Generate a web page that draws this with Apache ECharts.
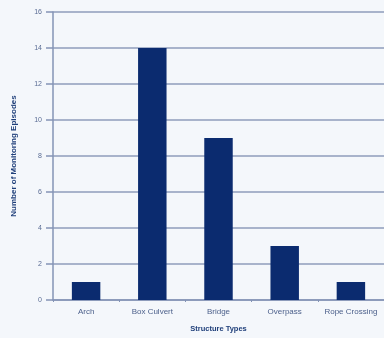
<!DOCTYPE html>
<html>
<head>
<meta charset="utf-8">
<script src="https://cdn.jsdelivr.net/npm/echarts@6/dist/echarts.min.js"></script>
<style>
  html, body { margin: 0; padding: 0; background: #f4f7fb; }
  #chart { width: 384px; height: 338px; }
</style>
</head>
<body>
<div id="chart"></div>
<script>
// Monitoring episodes per crossing structure type
const categories = ['Arch', 'Box Culvert', 'Bridge', 'Overpass', 'Rope Crossing'];
const episodes = [1, 14, 9, 3, 1];
const yTicks = { min: 0, max: 16, interval: 2 };

const chart = echarts.init(document.getElementById('chart'));
chart.setOption({
  backgroundColor: '#f4f7fb',
  animation: false,
  grid: { left: 53, right: -4, top: 12, bottom: 38, containLabel: false },
  xAxis: {
    type: 'category',
    data: categories,
    name: 'Structure Types',
    nameLocation: 'middle',
    nameGap: 25,
    nameTextStyle: { fontFamily: 'Liberation Sans', fontSize: 7.5, fontWeight: 'bold', color: '#1f3f7a' },
    axisLine: { lineStyle: { color: '#8494b6', width: 1.5 } },
    axisTick: { show: true, length: 2, lineStyle: { color: '#8494b6' } },
    axisLabel: { interval: 0, hideOverlap: false, fontFamily: 'Liberation Sans', fontSize: 8, color: '#4b5f8a', margin: 8 }
  },
  yAxis: {
    type: 'value',
    min: yTicks.min,
    max: yTicks.max,
    interval: yTicks.interval,
    name: 'Number of Monitoring Episodes',
    nameLocation: 'middle',
    nameGap: 35,
    nameTextStyle: { fontFamily: 'Liberation Sans', fontSize: 8, fontWeight: 'bold', color: '#1f3f7a' },
    axisLine: { show: true, lineStyle: { color: '#8494b6', width: 1.5 } },
    axisTick: { show: true, length: 7, inside: false, lineStyle: { color: '#8494b6', width: 1.5 } },
    axisLabel: { fontFamily: 'Liberation Sans', fontSize: 7, color: '#5a6c94', margin: 11 },
    splitLine: { show: true, lineStyle: { color: '#8f9cbb', width: 1.5 } }
  },
  series: [{
    type: 'bar',
    data: episodes,
    barWidth: '43%',
    itemStyle: { color: '#0b2b6f' }
  }]
});
</script>
</body>
</html>
